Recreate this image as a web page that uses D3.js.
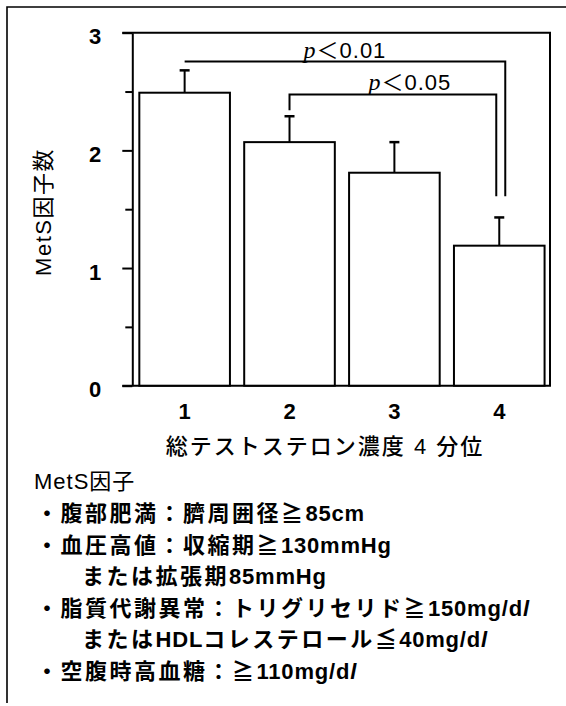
<!DOCTYPE html>
<html><head><meta charset="utf-8">
<script src="https://cdn.jsdelivr.net/npm/d3@7"></script>
<style>
body{margin:0;background:#fff;}
svg{display:block;}
</style></head><body>
<svg id="c" width="566" height="706"></svg>
<script>
// ---- data ----
const categories = ["1", "2", "3", "4"];
const meanValues = [2.49, 2.07, 1.81, 1.19];
const errorValues = [0.19, 0.22, 0.26, 0.24];
const yMajorTicks = [0, 1, 2, 3];
const yMinorTicks = [0.5, 1.5, 2.5];
const compFrom = [0, 1];
const compTo = [3, 3];
const compLevel = [2.755, 2.475];
const compLeftEnd = [2.755, 2.34];
const compRightEnd = [1.61, 1.61];
const compP = ["0.01", "0.05"];
const yTitle = "MetS因子数";
const xTitle = "総テストステロン濃度 4 分位";
const legendTitle = "MetS因子";
const legendLines = [
  "・腹部肥満：臍周囲径≧85cm",
  "・血圧高値：収縮期≧130mmHg",
  "または拡張期85mmHg",
  "・脂質代謝異常：トリグリセリド≧150mg/dl",
  "またはHDLコレステロール≦40mg/dl",
  "・空腹時高血糖：≧110mg/dl"
];
const legendIndented = [false, false, true, false, true, false];

// ---- layout ----
const L = { axisX: 132.3, frameR: 550, y0: 385.7, y3: 32.7 };
const FONT = '"Liberation Sans", "Noto Sans CJK JP", sans-serif';

const svg = d3.select("#c");
const x = d3.scaleBand().domain(categories).range([L.axisX, 551.6]).paddingInner(0.136).paddingOuter(0.067);
const y = d3.scaleLinear().domain([0, 3]).range([L.y0, L.y3]);
const cx = i => x(categories[i]) + x.bandwidth() / 2;

// outer frame (left + top)
svg.append("path").attr("d", "M7,703 L7,7 L566,7")
  .attr("fill", "none").attr("stroke", "#000").attr("stroke-width", 1.6);

// plot frame top/right/bottom
svg.append("path")
  .attr("d", `M${L.axisX - 10},${y(3)} L${L.frameR},${y(3)} L${L.frameR},${y(0)} L${L.axisX - 10},${y(0)}`)
  .attr("fill", "none").attr("stroke", "#000").attr("stroke-width", 2);

// bars
svg.append("g").selectAll("rect").data(meanValues).join("rect")
  .attr("x", (d, i) => x(categories[i]))
  .attr("y", d => y(d))
  .attr("width", x.bandwidth())
  .attr("height", d => y(0) - y(d))
  .attr("fill", "#fff").attr("stroke", "#000").attr("stroke-width", 2);

// error bars
const eb = svg.append("g").attr("stroke", "#000");
meanValues.forEach((m, i) => {
  eb.append("line").attr("x1", cx(i)).attr("x2", cx(i))
    .attr("y1", y(m)).attr("y2", y(m + errorValues[i])).attr("stroke-width", 2);
  eb.append("line").attr("x1", cx(i) - 5).attr("x2", cx(i) + 5)
    .attr("y1", y(m + errorValues[i])).attr("y2", y(m + errorValues[i])).attr("stroke-width", 2.5);
});

// y axis
const yAxis = svg.append("g").attr("transform", `translate(${L.axisX},0)`)
  .call(d3.axisLeft(y).tickValues(yMajorTicks).tickSize(10).tickSizeOuter(0).tickPadding(21).tickFormat(d3.format("d")));
yAxis.select(".domain").attr("stroke-width", 2);
yAxis.selectAll(".tick line").attr("stroke-width", 2);
yAxis.selectAll(".tick text").attr("font-family", FONT).attr("font-size", 22).attr("font-weight", "bold")
  .attr("fill", "#000").attr("dy", "0.5em");
const yMinor = svg.append("g").attr("transform", `translate(${L.axisX},0)`)
  .call(d3.axisLeft(y).tickValues(yMinorTicks).tickSize(7).tickSizeOuter(0).tickFormat(""));
yMinor.select(".domain").remove();
yMinor.selectAll(".tick line").attr("stroke-width", 2);

// x labels
const xAxis = svg.append("g").attr("transform", `translate(0,${L.y0})`)
  .call(d3.axisBottom(x).tickSize(0).tickPadding(18));
xAxis.select(".domain").remove();
xAxis.selectAll(".tick text").attr("font-family", FONT).attr("font-size", 22).attr("font-weight", "bold").attr("fill", "#000");

// axis titles
svg.append("text").attr("transform", "translate(43,212) rotate(-90)")
  .attr("text-anchor", "middle").attr("dominant-baseline", "central")
  .attr("font-family", FONT).attr("font-size", 22).attr("letter-spacing", 1.5).text(yTitle);
svg.append("text").attr("x", 325).attr("y", 446)
  .attr("text-anchor", "middle").attr("dominant-baseline", "central")
  .attr("font-family", FONT).attr("font-size", 22).attr("font-weight", 500).attr("letter-spacing", 2).text(xTitle);

// significance brackets
const rightShift = [6, -3];
const labelShift = [0, 17];
compFrom.forEach((f, k) => {
  const xl = cx(f), xr = cx(compTo[k]) + rightShift[k];
  const yl = y(compLevel[k]);
  svg.append("path")
    .attr("d", `M${xl},${y(compLeftEnd[k])} L${xl},${yl} L${xr},${yl} L${xr},${y(compRightEnd[k])}`)
    .attr("fill", "none").attr("stroke", "#000").attr("stroke-width", 2);
  const t = svg.append("text").attr("x", (xl + xr) / 2 + labelShift[k]).attr("y", yl - 4)
    .attr("text-anchor", "middle").attr("font-family", FONT).attr("font-size", 22).attr("letter-spacing", 1);
  t.append("tspan").attr("font-family", '"Liberation Serif", serif').attr("font-style", "italic").attr("font-size", 24).text("p");
  t.append("tspan").attr("font-family", '"Noto Sans CJK JP"').text("＜");
  t.append("tspan").text(compP[k]);
});

// legend
const cjkRe = /[\u2200-\u22ff\u3000-\u30ff\u4e00-\u9fff\uff00-\uffef]+|[^\u2200-\u22ff\u3000-\u30ff\u4e00-\u9fff\uff00-\uffef]+/g;
const isCjk = s => /[\u2200-\u22ff\u3000-\u30ff\u4e00-\u9fff\uff00-\uffef]/.test(s);
svg.append("text").attr("x", 34).attr("y", 489)
  .attr("font-family", FONT).attr("font-size", 22).attr("letter-spacing", 1).text(legendTitle);
legendLines.forEach((s, i) => {
  const t = svg.append("text").attr("x", legendIndented[i] ? 82 : 36).attr("y", 521 + i * 31.5)
    .attr("font-family", FONT).attr("font-size", 22).attr("font-weight", "bold");
  s.match(cjkRe).forEach(run => {
    if (isCjk(run)) {
      t.append("tspan").attr("letter-spacing", 2.5).text(run);
    } else if (run.endsWith("dl")) {
      t.append("tspan").attr("letter-spacing", 0.8).text(run.slice(0, -1));
      t.append("tspan").attr("font-style", "italic").text("l");
    } else {
      t.append("tspan").attr("letter-spacing", 0.8).text(run);
    }
  });
});
</script>
</body></html>
